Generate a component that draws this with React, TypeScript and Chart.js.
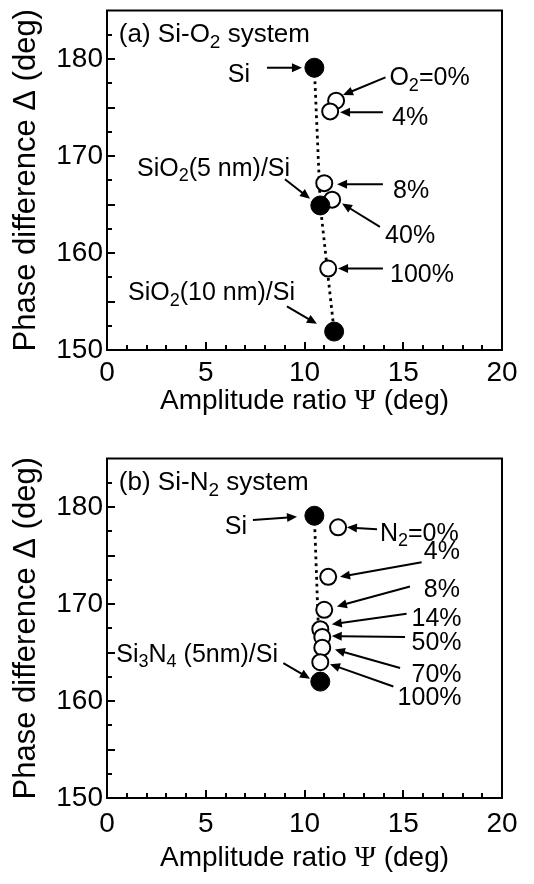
import React, { useEffect, useRef } from "react";
import { Chart, registerables } from "chart.js";

Chart.register(...registerables);

const FONT = '"Liberation Sans", Arial, Helvetica, sans-serif';
const SERIF = '"Liberation Serif", "Times New Roman", serif';

// ---------- Panel (a): Si-O2 system ----------
const A_FILLED_LABELS = ["Si", "SiO2(5 nm)/Si", "SiO2(10 nm)/Si"];
const A_FILLED_PSI = [10.5, 10.8, 11.5];
const A_FILLED_DELTA = [179.1, 164.9, 151.9];
const A_OPEN_LABELS = ["O2=0%", "4%", "8%", "40%", "100%"];
const A_OPEN_PSI = [11.6, 11.3, 11.0, 11.4, 11.2];
const A_OPEN_DELTA = [175.7, 174.6, 167.2, 165.5, 158.4];

// ---------- Panel (b): Si-N2 system ----------
const B_FILLED_LABELS = ["Si", "Si3N4 (5nm)/Si"];
const B_FILLED_PSI = [10.5, 10.8];
const B_FILLED_DELTA = [179.1, 162.0];
const B_OPEN_LABELS = ["N2=0%", "4%", "8%", "14%", "50%", "70%", "100%"];
const B_OPEN_PSI = [11.7, 11.2, 11.0, 10.8, 10.9, 10.9, 10.8];
const B_OPEN_DELTA = [177.9, 172.8, 169.4, 167.4, 166.6, 165.5, 164.0];

// ---------- Axes ----------
const X_MIN = 0;
const X_MAX = 20;
const X_LABEL_STEP = 5;
const X_TICK_MARKS = [0, 1, 2, 3, 4, 5, 6, 7, 8, 9, 10, 11, 12, 13, 14, 15, 16, 17, 18, 19, 20];
const Y_MIN = 150;
const Y_MAX = 185;
const Y_LABEL_STEP = 10;
const Y_TICK_MARKS = [150, 152.5, 155, 157.5, 160, 162.5, 165, 167.5, 170, 172.5, 175, 177.5, 180, 182.5];
// x title pieces: [text, serif?]
const X_TITLE_PARTS: [string, boolean][] = [
  ["Amplitude ratio ", false],
  ["\u03A8", true],
  [" (deg)", false],
];
const Y_TITLE = "Phase difference \u0394 (deg)";

// ---------- Annotations (text anchor + arrow tail/head in data units) ----------
type Ann = { text: string; tx: number; ty: number; align: "left" | "right"; arrow?: [number, number, number, number] };

const A_TITLE = "(a) Si-O_{2} system";
const A_ANN: Ann[] = [
  { text: "Si", tx: 7.24, ty: 178.6, align: "right", arrow: [8.1, 179.1, 9.87, 179.1] },
  { text: "O_{2}=0%", tx: 14.3, ty: 178.2, align: "left", arrow: [14.1, 178.1, 11.95, 176.3] },
  { text: "4%", tx: 14.43, ty: 174.1, align: "left", arrow: [13.97, 174.5, 11.8, 174.5] },
  { text: "SiO_{2}(5 nm)/Si", tx: 9.27, ty: 168.9, align: "right", arrow: [9.01, 167.6, 10.28, 165.6] },
  { text: "8%", tx: 14.48, ty: 166.6, align: "left", arrow: [13.97, 167.1, 11.65, 167.1] },
  { text: "40%", tx: 14.08, ty: 162.0, align: "left", arrow: [13.82, 162.7, 11.9, 165.1] },
  { text: "100%", tx: 14.33, ty: 157.9, align: "left", arrow: [13.97, 158.4, 11.7, 158.4] },
  { text: "SiO_{2}(10 nm)/Si", tx: 9.52, ty: 156.05, align: "right", arrow: [9.11, 154.5, 10.63, 152.7] },
];

const B_TITLE = "(b) Si-N_{2} system";
const B_ANN: Ann[] = [
  { text: "Si", tx: 7.09, ty: 178.1, align: "right", arrow: [7.39, 178.65, 9.62, 179.0] },
  { text: "N_{2}=0%", tx: 13.82, ty: 177.45, align: "left", arrow: [13.67, 177.7, 12.15, 177.9] },
  { text: "4%", tx: 17.87, ty: 175.6, align: "right", arrow: [15.93, 174.3, 11.8, 172.8] },
  { text: "8%", tx: 17.87, ty: 171.6, align: "right", arrow: [15.34, 171.8, 11.64, 169.75] },
  { text: "14%", tx: 17.95, ty: 168.7, align: "right", arrow: [15.17, 169.0, 11.38, 167.9] },
  { text: "50%", tx: 17.95, ty: 166.2, align: "right", arrow: [15.09, 166.6, 11.38, 166.7] },
  { text: "70%", tx: 17.95, ty: 162.9, align: "right", arrow: [14.84, 163.4, 11.54, 165.3] },
  { text: "100%", tx: 17.95, ty: 160.5, align: "right", arrow: [14.5, 161.5, 11.29, 163.8] },
  { text: "Si_{3}N_{4} (5nm)/Si", tx: 8.66, ty: 165.0, align: "right", arrow: [8.93, 163.9, 10.28, 162.3] },
];

// ---------- helpers ----------
function zip(xs: number[], ys: number[]) {
  return xs.map((x, i) => ({ x, y: ys[i] }));
}

function parseRich(s: string) {
  const segs: { t: string; sub: boolean }[] = [];
  const re = /_\{([^}]*)\}/g;
  let last = 0;
  let m: RegExpExecArray | null;
  while ((m = re.exec(s))) {
    if (m.index > last) segs.push({ t: s.slice(last, m.index), sub: false });
    segs.push({ t: m[1], sub: true });
    last = re.lastIndex;
  }
  if (last < s.length) segs.push({ t: s.slice(last), sub: false });
  return segs;
}

function drawRich(ctx: CanvasRenderingContext2D, s: string, x: number, y: number, align: string, size: number) {
  const segs = parseRich(s);
  const main = `${size}px ${FONT}`;
  const subSize = Math.round(size * 0.72);
  const sub = `${subSize}px ${FONT}`;
  let w = 0;
  for (const g of segs) {
    ctx.font = g.sub ? sub : main;
    w += ctx.measureText(g.t).width;
  }
  let cx = align === "right" ? x - w : align === "center" ? x - w / 2 : x;
  ctx.textAlign = "left";
  ctx.textBaseline = "alphabetic";
  const base = y + size * 0.36;
  for (const g of segs) {
    ctx.font = g.sub ? sub : main;
    ctx.fillText(g.t, cx, g.sub ? base + size * 0.22 : base);
    cx += ctx.measureText(g.t).width;
  }
}

function drawArrow(ctx: CanvasRenderingContext2D, x0: number, y0: number, x1: number, y1: number) {
  const ang = Math.atan2(y1 - y0, x1 - x0);
  const L = 10;
  const W = 4.5;
  const c = Math.cos(ang);
  const s = Math.sin(ang);
  const bx = x1 - L * c;
  const by = y1 - L * s;
  ctx.beginPath();
  ctx.moveTo(x0, y0);
  ctx.lineTo(bx + c, by + s);
  ctx.lineWidth = 2;
  ctx.stroke();
  ctx.beginPath();
  ctx.moveTo(x1, y1);
  ctx.lineTo(bx - W * s, by + W * c);
  ctx.lineTo(bx + W * s, by - W * c);
  ctx.closePath();
  ctx.fill();
}

const X_TITLE_SIZE = 28;

const decorPlugin = {
  id: "decor",
  afterDatasetsDraw(chart: any, _args: any, opts: any) {
    const { ctx, chartArea: ca, scales } = chart;
    const xs = scales.x;
    const ys = scales.y;
    ctx.save();
    ctx.strokeStyle = "#000";
    ctx.fillStyle = "#000";
    ctx.lineWidth = 2;
    ctx.lineCap = "butt";
    ctx.strokeRect(ca.left, ca.top, ca.right - ca.left, ca.bottom - ca.top);
    // inward tick marks
    ctx.beginPath();
    for (const v of X_TICK_MARKS) {
      const px = Math.round(xs.getPixelForValue(v));
      const len = v % 5 === 0 ? 8 : 5;
      ctx.moveTo(px, ca.bottom);
      ctx.lineTo(px, ca.bottom - len);
    }
    for (const v of Y_TICK_MARKS) {
      const py = Math.round(ys.getPixelForValue(v));
      const len = v % 5 === 0 ? 8 : 5;
      ctx.moveTo(ca.left, py);
      ctx.lineTo(ca.left + len, py);
    }
    ctx.stroke();
    // x axis title (sans text with serif Psi)
    {
      let w = 0;
      for (const [t, serif] of X_TITLE_PARTS) {
        ctx.font = `${serif ? X_TITLE_SIZE + 1 : X_TITLE_SIZE}px ${serif ? SERIF : FONT}`;
        w += ctx.measureText(t).width;
      }
      let cx = (xs.left + xs.right) / 2 - w / 2;
      const cy = xs.bottom - opts.xTitleFromBottom;
      ctx.textAlign = "left";
      ctx.textBaseline = "middle";
      for (const [t, serif] of X_TITLE_PARTS) {
        ctx.font = `${serif ? X_TITLE_SIZE + 1 : X_TITLE_SIZE}px ${serif ? SERIF : FONT}`;
        ctx.fillText(t, cx, cy);
        cx += ctx.measureText(t).width;
      }
    }
    // panel title
    drawRich(ctx, opts.title, xs.getPixelForValue(0.6), ys.getPixelForValue(182.7), "left", 26);
    // labels + arrows
    for (const a of opts.ann as Ann[]) {
      drawRich(ctx, a.text, xs.getPixelForValue(a.tx), ys.getPixelForValue(a.ty), a.align, 25);
      if (a.arrow) {
        const [x0, y0, x1, y1] = a.arrow;
        drawArrow(ctx, xs.getPixelForValue(x0), ys.getPixelForValue(y0), xs.getPixelForValue(x1), ys.getPixelForValue(y1));
      }
    }
    ctx.restore();
  },
};

type PanelProps = {
  top: number;
  filledPsi: number[];
  filledDelta: number[];
  openPsi: number[];
  openDelta: number[];
  title: string;
  ann: Ann[];
  tickPad: number;
  titlePad: number;
};

const PANEL_W = 534;
const PANEL_H = 436;

function Panel(p: PanelProps) {
  const ref = useRef<HTMLCanvasElement>(null);
  useEffect(() => {
    const canvas = ref.current!;
    const filled = zip(p.filledPsi, p.filledDelta);
    const open = zip(p.openPsi, p.openDelta);
    const chart = new Chart(canvas, {
      type: "scatter",
      data: {
        datasets: [
          {
            data: filled,
            showLine: true,
            borderColor: "#000",
            borderWidth: 2.8,
            borderDash: [2.8, 4],
            pointRadius: 0,
            pointHoverRadius: 0,
            fill: false,
            order: 3,
          } as any,
          {
            data: open,
            pointRadius: 8,
            pointHoverRadius: 8,
            pointBorderWidth: 2,
            pointBackgroundColor: "#fff",
            pointBorderColor: "#000",
            order: 2,
          } as any,
          {
            data: filled,
            pointRadius: 9.5,
            pointHoverRadius: 9.5,
            pointBorderWidth: 1,
            pointBackgroundColor: "#000",
            pointBorderColor: "#000",
            order: 1,
          } as any,
        ],
      },
      options: {
        responsive: false,
        animation: false,
        devicePixelRatio: 1,
        events: [],
        layout: { padding: { left: 0, right: 32, top: 7, bottom: 0 } },
        plugins: {
          legend: { display: false },
          tooltip: { enabled: false },
          decor: { title: p.title, ann: p.ann, xTitleFromBottom: 16.8 + p.titlePad },
        } as any,
        scales: {
          x: {
            type: "linear",
            position: "bottom",
            min: X_MIN,
            max: X_MAX,
            grid: { display: false, drawTicks: false },
            border: { display: false },
            ticks: {
              stepSize: X_LABEL_STEP,
              color: "#000",
              font: { family: FONT, size: 28 },
              padding: p.tickPad,
              maxRotation: 0,
              autoSkip: false,
            },
            title: { display: false },
            afterFit: (s: any) => {
              s.height = 86;
              s.paddingLeft = 0;
              s.paddingRight = 0;
            },
          },
          y: {
            type: "linear",
            min: Y_MIN,
            max: Y_MAX,
            grid: { display: false, drawTicks: false },
            border: { display: false },
            ticks: {
              stepSize: Y_LABEL_STEP,
              includeBounds: false,
              color: "#000",
              font: { family: FONT, size: 28 },
              padding: 4,
              autoSkip: false,
            },
            title: {
              display: true,
              text: Y_TITLE,
              color: "#000",
              font: { family: FONT, size: 31 },
              padding: { top: 8, bottom: 0 },
            },
            afterFit: (s: any) => {
              s.width = 107;
              s.paddingTop = 0;
              s.paddingBottom = 0;
            },
          },
        } as any,
      },
      plugins: [decorPlugin as any],
    });
    return () => chart.destroy();
  }, []);
  return (
    <div style={{ position: "absolute", left: 0, top: p.top, width: PANEL_W, height: PANEL_H }}>
      <canvas ref={ref} width={PANEL_W} height={PANEL_H} style={{ display: "block" }} />
    </div>
  );
}

export default function App() {
  return (
    <div style={{ position: "absolute", left: 0, top: 0, width: PANEL_W, height: 884, background: "#fff" }}>
      <Panel
        top={0}
        filledPsi={A_FILLED_PSI}
        filledDelta={A_FILLED_DELTA}
        openPsi={A_OPEN_PSI}
        openDelta={A_OPEN_DELTA}
        title={A_TITLE}
        ann={A_ANN}
        tickPad={6}
        titlePad={18}
      />
      <Panel
        top={448}
        filledPsi={B_FILLED_PSI}
        filledDelta={B_FILLED_DELTA}
        openPsi={B_OPEN_PSI}
        openDelta={B_OPEN_DELTA}
        title={B_TITLE}
        ann={B_ANN}
        tickPad={9}
        titlePad={9}
      />
    </div>
  );
}
